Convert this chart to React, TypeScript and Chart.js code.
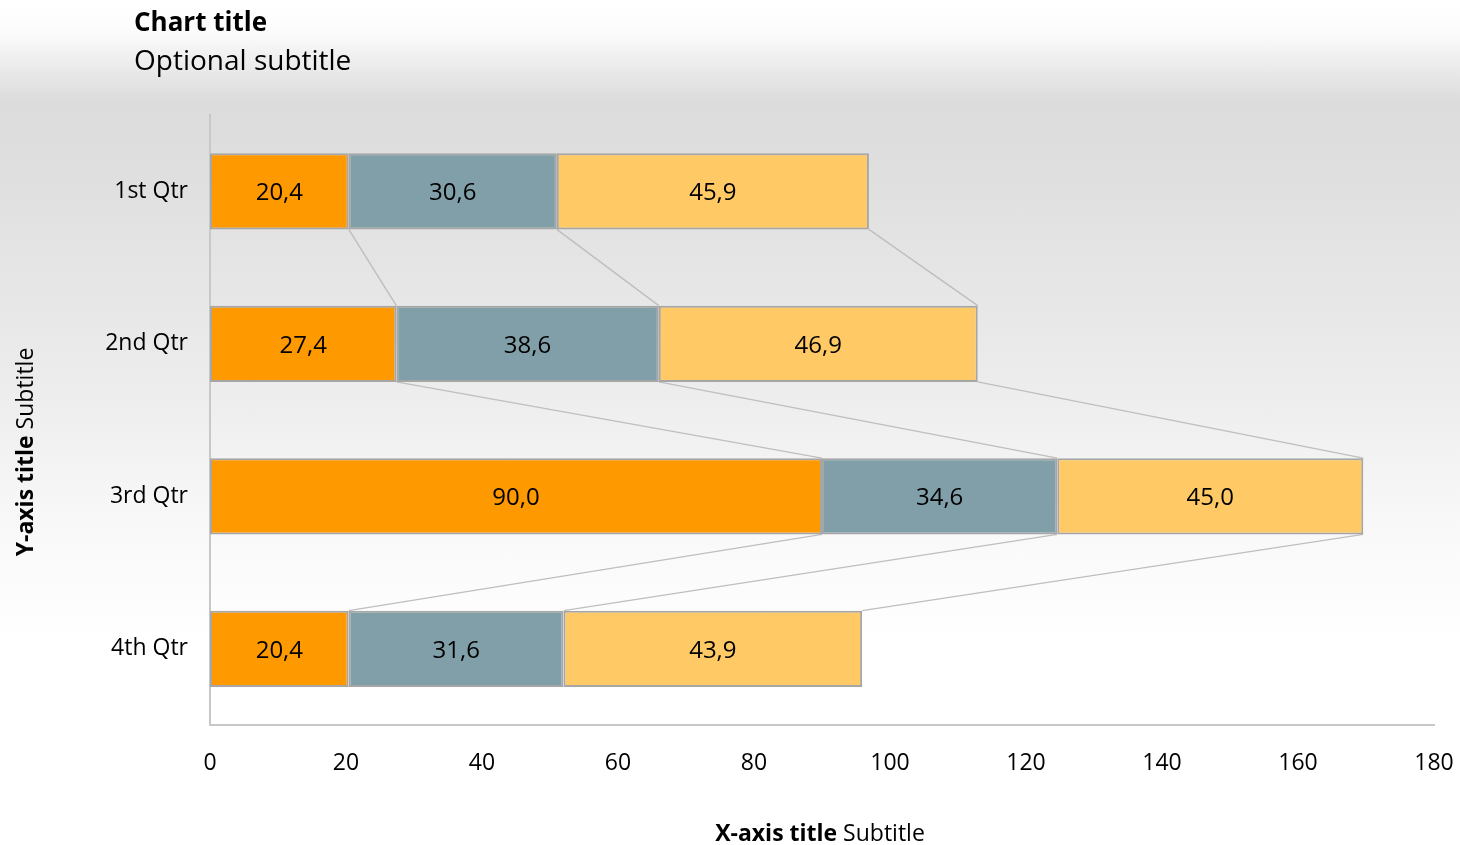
import React, { useEffect, useRef } from "react";
import { Chart, registerables } from "chart.js";

Chart.register(...registerables);

const categories = ["1st Qtr", "2nd Qtr", "3rd Qtr", "4th Qtr"];
const series1 = [20.4, 27.4, 90.0, 20.4];
const series2 = [30.6, 38.6, 34.6, 31.6];
const series3 = [45.9, 46.9, 45.0, 43.9];
const seriesNames = ["Series 1", "Series 2", "Series 3"];
const seriesColors = ["#FF9900", "#809FA8", "#FFCA66"];
const xTicks = [0, 20, 40, 60, 80, 100, 120, 140, 160, 180];

const FONT = "'Open Sans', 'Noto Sans', sans-serif";

const fmt = (v: number) => v.toFixed(1).replace(".", ",");

const overlayPlugin = {
  id: "overlay",
  beforeDatasetsDraw(chart: any) {
    const ctx = chart.ctx;
    const xs = chart.scales.x;
    const metas = chart.data.datasets.map((_: any, i: number) => chart.getDatasetMeta(i));
    ctx.save();
    ctx.strokeStyle = "#bfbfbf";
    ctx.lineWidth = 1.5;
    for (let c = 0; c < categories.length - 1; c++) {
      let cumA = 0;
      let cumB = 0;
      for (let d = 0; d < metas.length; d++) {
        cumA += chart.data.datasets[d].data[c];
        cumB += chart.data.datasets[d].data[c + 1];
        const ea = metas[d].data[c];
        const eb = metas[d].data[c + 1];
        const y1 = ea.y + ea.height / 2;
        const y2 = eb.y - eb.height / 2;
        ctx.beginPath();
        ctx.moveTo(xs.getPixelForValue(cumA), y1);
        ctx.lineTo(xs.getPixelForValue(cumB), y2);
        ctx.stroke();
      }
    }
    ctx.restore();
  },
  afterDatasetsDraw(chart: any) {
    const ctx = chart.ctx;
    ctx.save();
    ctx.fillStyle = "#000";
    ctx.font = `24px ${FONT}`;
    ctx.textAlign = "center";
    ctx.textBaseline = "middle";
    chart.data.datasets.forEach((ds: any, d: number) => {
      const meta = chart.getDatasetMeta(d);
      meta.data.forEach((el: any, i: number) => {
        const cx = (el.x + el.base) / 2;
        ctx.fillText(fmt(ds.data[i]), cx, el.y + 2);
      });
    });
    ctx.restore();
  },
  afterDraw(chart: any) {
    const ctx = chart.ctx;
    ctx.save();
    ctx.fillStyle = "#000";
    ctx.textBaseline = "alphabetic";
    ctx.textAlign = "left";
    ctx.font = `bold 26px ${FONT}`;
    ctx.fillText("Chart title", 134, 31);
    ctx.font = `28px ${FONT}`;
    ctx.fillText("Optional subtitle", 134, 70);

    const measure = (bold: string, normal: string) => {
      ctx.font = `bold 23px ${FONT}`;
      const wb = ctx.measureText(bold + " ").width;
      ctx.font = `23px ${FONT}`;
      const wn = ctx.measureText(normal).width;
      return { wb, wn };
    };
    const xm = measure("X-axis title", "Subtitle");
    const xStart = 820 - (xm.wb + xm.wn) / 2;
    ctx.font = `bold 23px ${FONT}`;
    ctx.fillText("X-axis title ", xStart, 841);
    ctx.font = `23px ${FONT}`;
    ctx.fillText("Subtitle", xStart + xm.wb, 841);

    const ym = measure("Y-axis title", "Subtitle");
    ctx.translate(33, 452);
    ctx.rotate(-Math.PI / 2);
    const yStart = -(ym.wb + ym.wn) / 2;
    ctx.font = `bold 23px ${FONT}`;
    ctx.fillText("Y-axis title ", yStart, 0);
    ctx.font = `23px ${FONT}`;
    ctx.fillText("Subtitle", yStart + ym.wb, 0);
    ctx.restore();
  },
};

export default function App() {
  const ref = useRef<HTMLCanvasElement | null>(null);
  useEffect(() => {
    if (!ref.current) return;
    const data = [series1, series2, series3];
    const chart = new Chart(ref.current, {
      type: "bar",
      data: {
        labels: categories,
        datasets: data.map((d, i) => ({
          label: seriesNames[i],
          data: d,
          backgroundColor: seriesColors[i],
          borderColor: "#a6a6a6",
          borderWidth: 2,
          borderSkipped: false,
          barPercentage: 0.5,
          categoryPercentage: 1,
        })),
      },
      options: {
        indexAxis: "y",
        animation: false,
        responsive: false,
        maintainAspectRatio: false,
        layout: { padding: { left: 0, top: 115, right: 26, bottom: 0 } },
        plugins: {
          legend: { display: false },
          tooltip: { enabled: false },
          title: { display: false },
        },
        scales: {
          x: {
            stacked: true,
            min: 0,
            max: 180,
            afterBuildTicks: (scale: any) => {
              scale.ticks = xTicks.map((v) => ({ value: v }));
            },
            afterFit: (scale: any) => {
              scale.height = 120;
              scale.paddingLeft = 0;
              scale.paddingRight = 0;
            },
            grid: { display: false, drawTicks: false },
            border: { display: true, color: "#c8c8c8", width: 2 },
            ticks: {
              padding: 25,
              color: "#000",
              font: { family: FONT, size: 23 },
              maxRotation: 0,
            },
          },
          y: {
            stacked: true,
            afterFit: (scale: any) => {
              scale.width = 210;
              scale.paddingTop = 0;
              scale.paddingBottom = 0;
            },
            grid: { display: false, drawTicks: false },
            border: { display: true, color: "#c8c8c8", width: 2 },
            ticks: {
              padding: 22,
              color: "#000",
              font: { family: FONT, size: 23 },
            },
          },
        },
      },
      plugins: [overlayPlugin],
    } as any);
    return () => chart.destroy();
  }, []);

  return (
    <div
      style={{
        position: "absolute",
        left: 0,
        top: 0,
        width: 1460,
        height: 845,
        background:
          "linear-gradient(to bottom, #ffffff 0px, #fcfcfc 30px, #dcdcdc 100px, #dddddd 140px, #ececec 380px, #f8f8f8 520px, #ffffff 640px, #ffffff 845px)",
      }}
    >
      <canvas ref={ref} width={1460} height={845} style={{ display: "block" }} />
    </div>
  );
}
